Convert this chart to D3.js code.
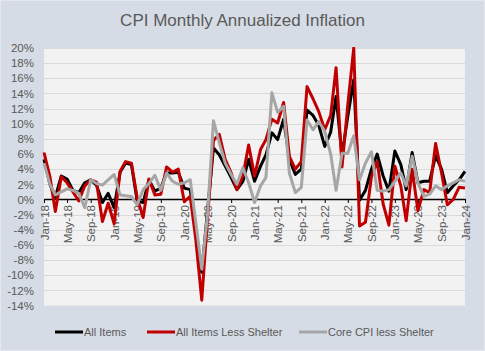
<!DOCTYPE html>
<html>
<head>
<meta charset="utf-8">
<script src="https://cdn.jsdelivr.net/npm/d3@7"></script>
<style>
  body { margin: 0; background: #d6dce5; }
  svg { display: block; }
  text { font-family: "Liberation Sans", Arial, sans-serif; fill: #595959; }
</style>
</head>
<body>
<div id="chart"></div>
<script>
"use strict";

// months Jan-18 .. Jan-24
var months = d3.utcMonth.range(new Date(Date.UTC(2018, 0, 1)), new Date(Date.UTC(2024, 1, 1)));

// x tick labels, every 4 months
var xTickLabels = ["Jan-18","May-18","Sep-18","Jan-19","May-19","Sep-19","Jan-20","May-20","Sep-20",
  "Jan-21","May-21","Sep-21","Jan-22","May-22","Sep-22","Jan-23","May-23","Sep-23","Jan-24"];
var yTicks = [-14,-12,-10,-8,-6,-4,-2,0,2,4,6,8,10,12,14,16,18,20];

// annualized monthly % change
var allItems = [5.3,2.0,0.3,3.1,2.7,1.2,0.9,2.2,2.6,1.9,-0.4,0.8,
  -1.1,3.6,4.8,4.6,-0.2,-0.4,2.6,1.1,1.5,3.5,3.5,3.6,
  1.5,1.3,-4.2,-9.6,-1.5,6.8,5.9,4.4,2.9,1.3,2.4,5.3,
  2.4,4.4,5.9,8.8,7.9,10.6,5.3,3.3,4.0,11.8,11.1,9.8,
  7.0,8.9,13.6,5.8,11.0,15.8,-0.1,1.2,4.0,6.0,3.1,1.1,
  6.4,4.6,1.3,6.2,2.2,2.4,2.4,5.8,4.0,0.9,1.8,2.6,3.7];

var lessShelter = [6.2,3.0,-1.6,3.0,2.2,1.0,-0.2,1.8,2.6,2.3,-2.9,-0.5,
  -3.2,3.7,5.0,4.8,0.2,-2.4,2.7,0.6,0.7,4.3,3.6,4.0,
  -0.3,0.4,-5.3,-13.3,-2.5,7.8,8.6,5.3,3.5,1.3,3.1,7.2,
  3.1,6.6,7.9,10.6,10.1,12.8,5.7,4.0,5.0,14.9,13.3,11.6,
  9.2,11.1,17.4,4.3,12.5,20.0,-3.5,-3.0,3.0,5.0,-0.6,-3.4,
  4.4,1.8,-2.8,4.0,-1.5,1.3,0.9,7.4,3.5,-0.7,0.0,1.6,1.5];

var coreLessShelter = [4.8,2.0,0.6,1.0,1.4,1.2,0.8,-1.1,2.6,2.1,1.9,2.6,
  3.3,0.6,0.5,0.4,-0.7,1.3,2.1,3.2,1.2,3.5,2.4,2.0,
  2.2,2.6,-3.0,-9.2,-2.0,10.4,7.5,4.8,3.3,2.0,4.2,2.2,
  -0.4,1.8,2.9,14.1,11.5,12.3,3.5,0.9,1.6,10.5,9.2,10.3,
  9.0,6.0,1.2,6.1,6.1,8.4,2.6,4.8,6.3,1.2,1.1,1.3,
  2.4,3.5,1.8,5.7,2.2,0.4,0.7,1.8,1.3,1.8,2.2,2.6,2.4];

var seriesNames = ["All Items", "All Items Less Shelter", "Core CPI less Shelter"];
var seriesColors = ["#000000", "#c00000", "#a6a6a6"];

var W = 485, H = 351;
var margin = { top: 48, right: 20, bottom: 45, left: 44 };

var svg = d3.select("#chart").append("svg")
  .attr("width", W).attr("height", H);

svg.append("rect").attr("x", 0.5).attr("y", 0.5).attr("width", W - 1).attr("height", H - 1)
  .attr("fill", "#d6dce5").attr("stroke", "#e4e8ee");

// title
svg.append("text")
  .attr("x", W / 2).attr("y", 26)
  .attr("text-anchor", "middle")
  .style("font-size", "17px")
  .text("CPI Monthly Annualized Inflation");

var x = d3.scaleUtc()
  .domain([months[0], months[months.length - 1]])
  .range([margin.left, 465]);
var y = d3.scaleLinear()
  .domain([-14, 20])
  .range([305.5, margin.top]);

// plot area
svg.append("rect")
  .attr("x", margin.left).attr("y", y(20))
  .attr("width", 465 - margin.left).attr("height", y(-14) - y(20))
  .attr("fill", "#f2f2f2");

// gridlines
svg.append("g").selectAll("line")
  .data(yTicks.filter(function(d) { return d !== -14; }))
  .enter().append("line")
  .attr("x1", margin.left).attr("x2", 465)
  .attr("y1", function(d) { return Math.round(y(d)) + 0.5; })
  .attr("y2", function(d) { return Math.round(y(d)) + 0.5; })
  .attr("stroke", "#d9d9d9").attr("stroke-width", 1);

// y axis labels
var yAxis = d3.axisLeft(y)
  .tickValues(yTicks)
  .tickFormat(function(d) { return d + "%"; })
  .tickSize(0).tickPadding(10);
var gy = svg.append("g")
  .attr("transform", "translate(" + margin.left + ",0)")
  .call(yAxis);
gy.select(".domain").remove();
gy.selectAll("text").style("font-size", "11.5px").attr("fill", "#595959");

// x axis on zero line
var labelDates = xTickLabels.map(function(s) { return d3.utcParse("%b-%y")(s); });
var xAxis = d3.axisBottom(x)
  .tickValues(labelDates)
  .tickFormat(d3.utcFormat("%b-%y"))
  .tickSizeInner(4).tickSizeOuter(0);
var gx = svg.append("g")
  .attr("transform", "translate(0," + Math.round(y(0)) + ")")
  .call(xAxis);
gx.select(".domain").attr("stroke", "#000").attr("stroke-width", 1.5);
gx.selectAll(".tick line").attr("stroke", "#000");
gx.selectAll("text")
  .style("font-size", "11.5px").attr("fill", "#595959")
  .attr("text-anchor", "end")
  .attr("transform", "rotate(-90)")
  .attr("x", -6).attr("y", 0).attr("dy", "0.35em");

// lines
var line = d3.line()
  .x(function(d, i) { return x(months[i]); })
  .y(function(d) { return y(d); });

var clip = svg.append("clipPath").attr("id", "plot")
  .append("rect")
  .attr("x", margin.left - 5).attr("y", y(20) - 1)
  .attr("width", 465 - margin.left + 10).attr("height", y(-14) - y(20) + 2);

[allItems, lessShelter, coreLessShelter].forEach(function(s, k) {
  svg.append("path")
    .attr("d", line(s))
    .attr("fill", "none")
    .attr("clip-path", "url(#plot)")
    .attr("stroke", seriesColors[k])
    .attr("stroke-width", 3)
    .attr("stroke-linejoin", "round");
});

// legend
var legendX = [55, 147, 299];
var lg = svg.append("g").selectAll("g")
  .data(seriesNames)
  .enter().append("g")
  .attr("transform", function(d, i) { return "translate(" + legendX[i] + ",332)"; });
lg.append("line")
  .attr("x1", 0).attr("x2", 28)
  .attr("stroke", function(d, i) { return seriesColors[i]; })
  .attr("stroke-width", 3);
lg.append("text")
  .attr("x", 29).attr("dy", "0.35em")
  .style("font-size", "11px")
  .text(function(d) { return d; });
</script>
</body>
</html>
